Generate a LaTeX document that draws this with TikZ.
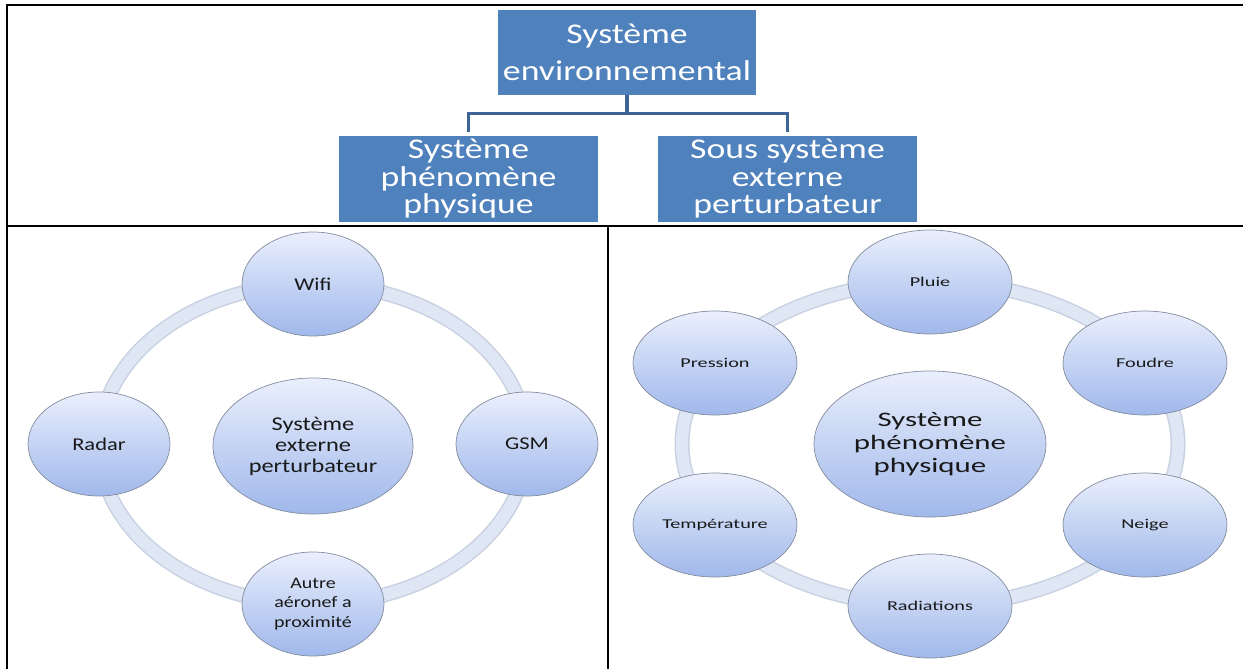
\documentclass[tikz,border=0pt]{standalone}
\usepackage{fontspec}
\setmainfont{Carlito}
\newfontfamily\wa[FakeStretch=1.25]{Carlito}
\newfontfamily\wb[FakeStretch=1.5]{Carlito}
\usetikzlibrary{shapes.geometric}
\definecolor{boxblue}{RGB}{79,129,189}
\definecolor{linkblue}{RGB}{60,100,148}
\definecolor{bubtop}{RGB}{234,239,252}
\definecolor{bubbot}{RGB}{160,184,235}
\definecolor{bubline}{RGB}{130,140,158}
\definecolor{ringfill}{RGB}{224,231,244}
\definecolor{ringline}{RGB}{200,209,226}
\definecolor{txt}{RGB}{25,25,25}

\begin{document}
\begin{tikzpicture}[x=1pt,y=-1pt,
    box/.style={rectangle,fill=boxblue,text=white,align=center,inner sep=0pt,minimum width=259pt,minimum height=86pt},
    bub/.style={ellipse,draw=bubline,line width=0.7pt,top color=bubtop,bottom color=bubbot,text=txt,align=center,inner sep=0pt},
    satl/.style={bub,minimum width=142pt,minimum height=104pt,font=\wa\fontsize{18}{20}\selectfont},
    satr/.style={bub,minimum width=164pt,minimum height=104pt,font=\wb\fontsize{13.5}{16}\selectfont},
    ringedge/.style={line width=15pt,ringline},
    ringbody/.style={line width=12pt,ringfill}]
    \useasboundingbox (0,0) rectangle (1243,669);
    % tableau
    \draw[line width=2pt] (7,669) -- (7,5) -- (1243,5);
    \draw[line width=2pt] (7,226) -- (1243,226);
    \draw[line width=2pt] (608,226) -- (608,669);
    % hierarchie
    \node[box,minimum width=258pt,minimum height=85pt,font=\wa\fontsize{28.6}{37}\selectfont] at (627,52.5) (e) {Système\\environnemental};
    \node[box,font=\wa\fontsize{28.6}{27.5}\selectfont] at (468.5,179) (p) {Système\\phénomène\\physique};
    \node[box,font=\wa\fontsize{28.6}{27.5}\selectfont] at (787.5,179) (s) {Sous système\\externe\\perturbateur};
    \draw[linkblue,line width=3.2pt] (e.south) -- ++(0,18) -| ([yshift=4pt]p.north);
    \draw[linkblue,line width=3.2pt] (e.south) -- ++(0,18) -| ([yshift=4pt]s.north);
    % cycle gauche
    \draw[ringedge] (313,444) ellipse [x radius=214pt, y radius=160pt];
    \draw[ringbody] (313,444) ellipse [x radius=214pt, y radius=160pt];
    \node[bub,minimum width=200pt,minimum height=136pt,font=\wa\fontsize{19.5}{21}\selectfont] at (313,446) (c) {Système\\externe\\perturbateur};
    \node[satl] at (313,284) (w) {Wifi};
    \node[satl] at (527,444) (g) {GSM};
    \node[satl,font=\wa\fontsize{16}{19.5}\selectfont] at (313,604) (a) {Autre\\aéronef a\\proximité};
    \node[satl] at (99,444) (r) {Radar};
    % cycle droit
    \draw[ringedge] (930,444) ellipse [x radius=248pt, y radius=162pt];
    \draw[ringbody] (930,444) ellipse [x radius=248pt, y radius=162pt];
    \node[bub,minimum width=232pt,minimum height=146pt,font=\wb\fontsize{20.6}{23}\selectfont] at (930,444) (d) {Système\\phénomène\\physique};
    \node[satr] at (930,282) (pl) {Pluie};
    \node[satr] at (1145,363) (fo) {Foudre};
    \node[satr] at (1145,525) (ne) {Neige};
    \node[satr] at (930,606) (ra) {Radiations};
    \node[satr] at (715,525) (te) {Température};
    \node[satr] at (715,363) (pr) {Pression};
\end{tikzpicture}
\end{document}
